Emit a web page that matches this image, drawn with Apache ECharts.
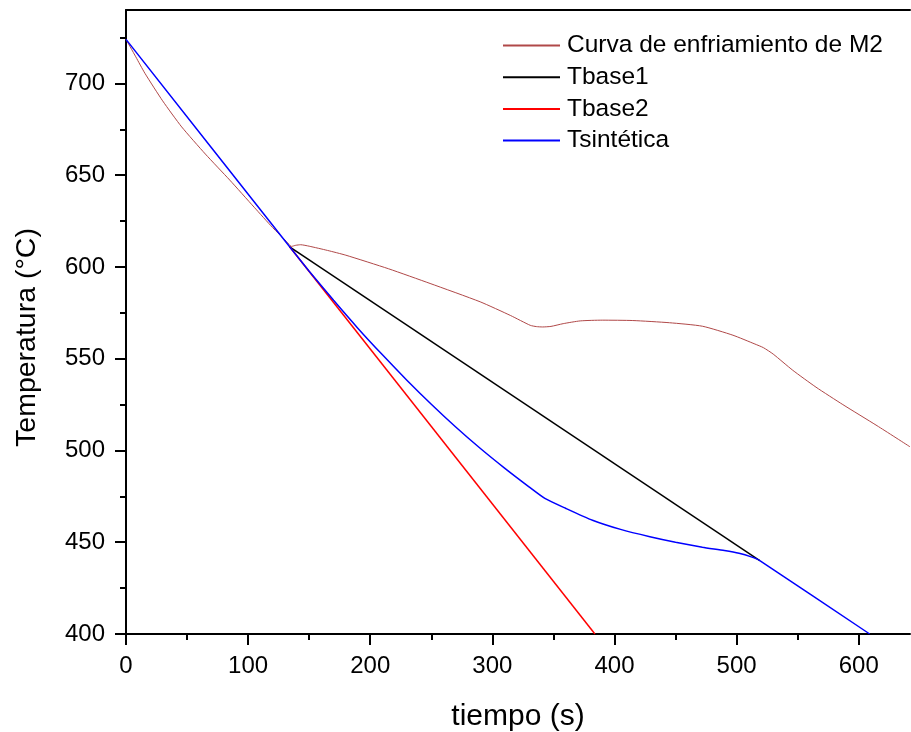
<!DOCTYPE html>
<html>
<head>
<meta charset="utf-8">
<script src="https://cdn.jsdelivr.net/npm/echarts@6/dist/echarts.min.js"></script>
<style>html,body{margin:0;padding:0;background:#fff;}#c{width:911px;height:732px;}</style>
</head>
<body>
<div id="c"></div>
<script>
const curvaTiempo = [0, 8, 15.5, 30, 45.6, 65, 85, 105, 120, 131.5, 135.5, 139, 143, 150, 165, 180, 215, 249, 290, 315, 331, 336, 341, 348, 358, 372, 390, 415, 445, 472, 497, 515, 522, 530, 546, 565, 587, 615, 642];
const curvaTemp   = [724, 714.5, 705.5, 690.5, 676.3, 661.5, 647.3, 632.5, 621.5, 613.8, 611.2, 611.8, 612.1, 611.3, 609, 606.4, 599, 591, 581, 573.5, 568.2, 567.5, 567.3, 567.6, 569.1, 570.6, 571, 570.8, 569.6, 567.7, 562.8, 558, 556, 552.5, 543.7, 534.5, 525, 513.5, 502];

const tbase1Tiempo = [134, 519];
const tbase1Temp   = [611, 440];

const tbase2Tiempo = [134, 384];
const tbase2Temp   = [611, 400];

const sintTiempo = [0, 134, 150, 170, 190, 210, 230, 250, 270, 290, 310, 330, 343, 360, 382, 405, 429, 450, 472, 490, 502, 512, 519, 609];
const sintTemp   = [724, 611, 597.7, 581.8, 566.5, 552.1, 538.3, 525.2, 512.8, 501.2, 490.4, 480.2, 473.9, 468.5, 462, 457, 453, 450, 447.3, 445.5, 444, 442, 440, 400];

const xMajorTicks = [0, 100, 200, 300, 400, 500, 600];
const xMinorTicks = [50, 150, 250, 350, 450, 550];
const yMajorTicks = [400, 450, 500, 550, 600, 650, 700];
const yMinorTicks = [425, 475, 525, 575, 625, 675, 725];

const seriesNames = ['Curva de enfriamiento de M2', 'Tbase1', 'Tbase2', 'Tsintética'];
const seriesColors = ['#b04848', '#000000', '#ff0000', '#0000ff'];

function pairs(xs, ys) { return xs.map((x, i) => [x, ys[i]]); }

const FONT = "'Liberation Sans', Arial, sans-serif";
const X_MIN = 0, X_MAX = 642, Y_MIN = 400, Y_MAX = 740;

const chart = echarts.init(document.getElementById('c'), null, {renderer: 'canvas'});

const baseAxis = (extra) => Object.assign({
  type: 'value', splitLine: {show: false},
  axisLine: {show: false, onZero: false},
  axisTick: {show: false}, axisLabel: {show: false}
}, extra);

chart.setOption({
  animation: false,
  backgroundColor: '#ffffff',
  grid: {left: 126, right: 1, top: 10, bottom: 98, containLabel: false, outerBoundsMode: 'none'},
  legend: {
    orient: 'vertical', left: 503, top: 33, padding: 0,
    itemWidth: 57, itemHeight: 2, itemGap: 6.7,
    textStyle: {fontFamily: FONT, fontSize: 24.5, color: '#000', lineHeight: 24, padding: [0, 0, 0, 2]},
    data: seriesNames.map((n) => ({name: n, icon: 'rect'}))
  },
  xAxis: [
    baseAxis({
      min: X_MIN, max: X_MAX, position: 'bottom',
      axisLine: {show: true, onZero: false, lineStyle: {color: '#000', width: 2}},
      axisTick: {show: true, customValues: xMajorTicks, length: 11, lineStyle: {color: '#000', width: 2}},
      axisLabel: {show: true, customValues: xMajorTicks, margin: 20, fontFamily: FONT, fontSize: 24, color: '#000'},
      name: 'tiempo (s)', nameLocation: 'middle', nameGap: 68,
      nameTextStyle: {fontFamily: FONT, fontSize: 30, color: '#000'}
    }),
    baseAxis({
      min: X_MIN, max: X_MAX, position: 'bottom',
      axisTick: {show: true, customValues: xMinorTicks, length: 6, lineStyle: {color: '#000', width: 2}}
    }),
    baseAxis({
      min: X_MIN, max: X_MAX, position: 'top',
      axisLine: {show: true, onZero: false, lineStyle: {color: '#000', width: 2}}
    })
  ],
  yAxis: [
    baseAxis({
      min: Y_MIN, max: Y_MAX, position: 'left',
      axisLine: {show: true, onZero: false, lineStyle: {color: '#000', width: 2}},
      axisTick: {show: true, customValues: yMajorTicks, length: 11, lineStyle: {color: '#000', width: 2}},
      axisLabel: {show: true, customValues: yMajorTicks, margin: 21, fontFamily: FONT, fontSize: 24, color: '#000'},
      name: 'Temperatura (°C)', nameLocation: 'middle', nameGap: 84,
      nameTextStyle: {fontFamily: FONT, fontSize: 28.5, color: '#000', padding: [0, 31, 0, 0]}
    }),
    baseAxis({
      min: Y_MIN, max: Y_MAX, position: 'left',
      axisTick: {show: true, customValues: yMinorTicks, length: 6, lineStyle: {color: '#000', width: 2}}
    })
  ],
  series: [
    {name: seriesNames[0], type: 'line', data: pairs(curvaTiempo, curvaTemp), smooth: 0.2, symbol: 'none',
     lineStyle: {color: seriesColors[0], width: 1}, itemStyle: {color: seriesColors[0]}},
    {name: seriesNames[1], type: 'line', data: pairs(tbase1Tiempo, tbase1Temp), symbol: 'none',
     lineStyle: {color: seriesColors[1], width: 1.5}, itemStyle: {color: seriesColors[1]}},
    {name: seriesNames[2], type: 'line', data: pairs(tbase2Tiempo, tbase2Temp), symbol: 'none',
     lineStyle: {color: seriesColors[2], width: 1.5}, itemStyle: {color: seriesColors[2]}},
    {name: seriesNames[3], type: 'line', data: pairs(sintTiempo, sintTemp), smooth: 0.2, symbol: 'none',
     lineStyle: {color: seriesColors[3], width: 1.5}, itemStyle: {color: seriesColors[3]}}
  ]
});
</script>
</body>
</html>
